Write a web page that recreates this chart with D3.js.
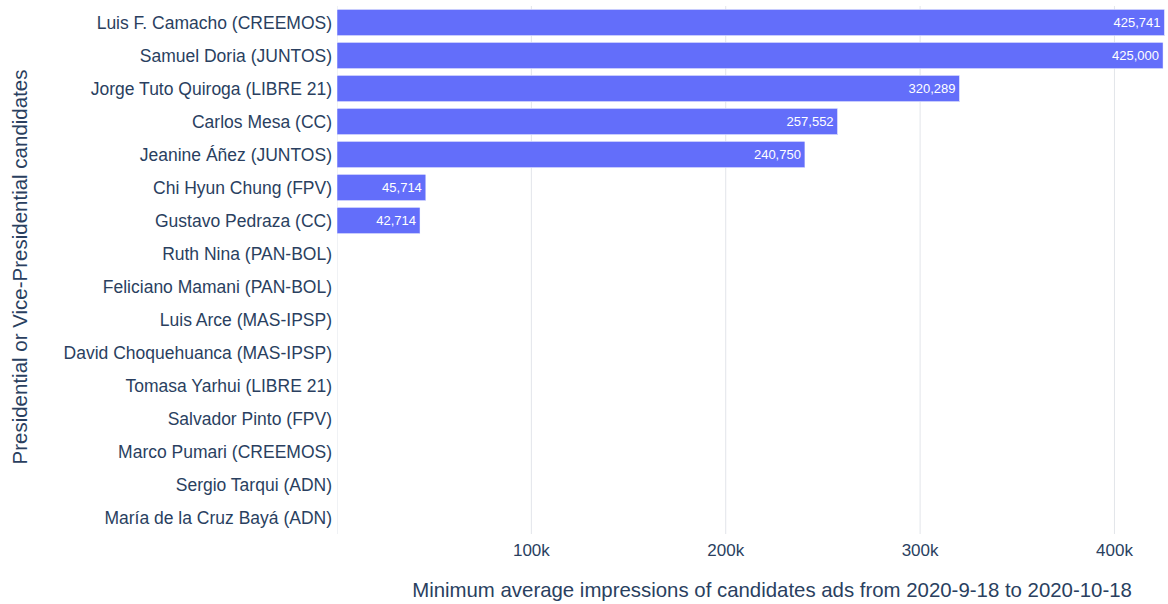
<!DOCTYPE html>
<html>
<head>
<meta charset="utf-8">
<script src="https://cdn.jsdelivr.net/npm/d3@7"></script>
<style>
  body { margin: 0; background: #fff; }
  text { font-family: "Liberation Sans", Arial, sans-serif; fill: #2a3f5f; }
</style>
</head>
<body>
<svg id="chart" width="1168" height="604"></svg>
<script>
// candidates, top to bottom
var candidates = [
  "Luis F. Camacho (CREEMOS)",
  "Samuel Doria (JUNTOS)",
  "Jorge Tuto Quiroga (LIBRE 21)",
  "Carlos Mesa (CC)",
  "Jeanine Áñez (JUNTOS)",
  "Chi Hyun Chung (FPV)",
  "Gustavo Pedraza (CC)",
  "Ruth Nina (PAN-BOL)",
  "Feliciano Mamani (PAN-BOL)",
  "Luis Arce (MAS-IPSP)",
  "David Choquehuanca (MAS-IPSP)",
  "Tomasa Yarhui (LIBRE 21)",
  "Salvador Pinto (FPV)",
  "Marco Pumari (CREEMOS)",
  "Sergio Tarqui (ADN)",
  "María de la Cruz Bayá (ADN)"
];
var impressions = [425741, 425000, 320289, 257552, 240750, 45714, 42714, 0, 0, 0, 0, 0, 0, 0, 0, 0];
var xTicks = [100000, 200000, 300000, 400000];
var xTickLabels = ["100k", "200k", "300k", "400k"];

var svg = d3.select("#chart");
var margin = { top: 6, right: 3, bottom: 70, left: 337 };
var width = 1168 - margin.left - margin.right;
var height = 604 - margin.top - margin.bottom;

var x = d3.scaleLinear().domain([0, 426000]).range([0, width]);
var y = d3.scaleBand().domain(candidates).range([0, height]).paddingInner(0.2).paddingOuter(0.1);

var g = svg.append("g").attr("transform", `translate(${margin.left},${margin.top})`);

// grid
g.selectAll("line.grid")
  .data(xTicks)
  .enter().append("line")
  .attr("class", "grid")
  .attr("x1", d => x(d)).attr("x2", d => x(d))
  .attr("y1", 0).attr("y2", height)
  .attr("stroke", "#e2e5ea").attr("stroke-width", 1);

// zero line
g.append("line")
  .attr("x1", 0.5).attr("x2", 0.5).attr("y1", 0).attr("y2", height)
  .attr("stroke", "#f0f2f5").attr("stroke-width", 1);

// bars
g.selectAll("rect.bar")
  .data(candidates)
  .enter().append("rect")
  .attr("class", "bar")
  .attr("x", 0)
  .attr("y", d => y(d))
  .attr("width", (d, i) => x(impressions[i]))
  .attr("height", y.bandwidth())
  .attr("fill", "#636efa")
  .attr("stroke", (d, i) => impressions[i] > 0 ? "#fff" : "none")
  .attr("stroke-width", 0.5);

// values inside bars
g.selectAll("text.val")
  .data(candidates.filter((d, i) => impressions[i] > 0))
  .enter().append("text")
  .attr("class", "val")
  .attr("x", (d, i) => x(impressions[i]) - 4)
  .attr("y", d => y(d) + y.bandwidth() / 2)
  .attr("dy", "0.35em")
  .attr("text-anchor", "end")
  .style("font-size", "13px")
  .style("fill", "#fff")
  .text((d, i) => d3.format(",")(impressions[i]));

// y category labels
g.selectAll("text.cat")
  .data(candidates)
  .enter().append("text")
  .attr("class", "cat")
  .attr("x", -5)
  .attr("y", d => y(d) + y.bandwidth() / 2)
  .attr("dy", "0.35em")
  .attr("text-anchor", "end")
  .style("font-size", "17.5px")
  .text(d => d);

// x tick labels
g.selectAll("text.xtick")
  .data(xTicks)
  .enter().append("text")
  .attr("class", "xtick")
  .attr("x", d => x(d))
  .attr("y", height + 16)
  .attr("dy", "0.35em")
  .attr("text-anchor", "middle")
  .style("font-size", "17px")
  .text((d, i) => xTickLabels[i]);

// axis titles
svg.append("text")
  .attr("x", 772)
  .attr("y", 590)
  .attr("dy", "0.35em")
  .attr("text-anchor", "middle")
  .style("font-size", "20.4px")
  .text("Minimum average impressions of candidates ads from 2020-9-18 to 2020-10-18");

svg.append("text")
  .attr("transform", "translate(20,267) rotate(-90)")
  .attr("dy", "0.35em")
  .attr("text-anchor", "middle")
  .style("font-size", "20.5px")
  .text("Presidential or Vice-Presidential candidates");
</script>
</body>
</html>
